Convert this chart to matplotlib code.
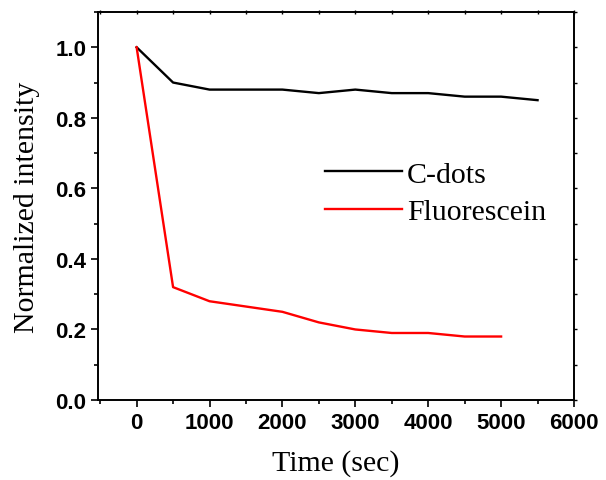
import numpy as np
import matplotlib.pyplot as plt
from matplotlib.ticker import MultipleLocator

# data
time_cdots = [0, 500, 1000, 1500, 2000, 2500, 3000, 3500, 4000, 4500, 5000, 5500]
int_cdots = [1.0, 0.90, 0.88, 0.88, 0.88, 0.87, 0.88, 0.87, 0.87, 0.86, 0.86, 0.85]
time_fluo = [0, 500, 1000, 1500, 2000, 2500, 3000, 3500, 4000, 4500, 5000]
int_fluo = [1.0, 0.32, 0.28, 0.265, 0.25, 0.22, 0.20, 0.19, 0.19, 0.18, 0.18]

fig = plt.figure(figsize=(6.06, 4.81), dpi=100)
ax = fig.add_axes([0.1617, 0.1663, 0.7855, 0.8067])

ax.plot(time_cdots, int_cdots, color='black', lw=1.7, label='C-dots')
ax.plot(time_fluo, int_fluo, color='red', lw=1.7, label='Fluorescein')

ax.set_xlim(-530, 6000)
ax.set_ylim(0, 1.1)
ax.xaxis.set_major_locator(MultipleLocator(1000))
ax.xaxis.set_minor_locator(MultipleLocator(500))
ax.yaxis.set_major_locator(MultipleLocator(0.2))
ax.yaxis.set_minor_locator(MultipleLocator(0.1))
ax.yaxis.set_major_formatter(plt.FormatStrFormatter('%.1f'))

for s in ax.spines.values():
    s.set_linewidth(1.4)
ax.tick_params(which='both', direction='out', width=1.2)
ax.tick_params(which='major', length=5)
ax.tick_params(which='minor', length=3)

# tiny marks on the top and right spines
sec_x = ax.secondary_xaxis('top')
sec_x.xaxis.set_major_locator(MultipleLocator(500))
sec_x.tick_params(direction='inout', length=3, width=1.0, labeltop=False)
sec_x.spines['top'].set_visible(False)
sec_y = ax.secondary_yaxis('right')
sec_y.yaxis.set_major_locator(MultipleLocator(0.1))
sec_y.tick_params(direction='out', length=2, width=1.0, labelright=False)
sec_y.spines['right'].set_visible(False)

for lab in ax.get_xticklabels() + ax.get_yticklabels():
    lab.set_fontfamily('Liberation Sans')
    lab.set_fontweight('bold')
    lab.set_fontsize(16)

ax.set_xlabel('Time (sec)', fontfamily='Liberation Serif', fontsize=21.5, labelpad=12)
ax.set_ylabel('Normalized intensity', fontfamily='Liberation Serif', fontsize=21.5, labelpad=11)

ax.legend(loc='upper left', bbox_to_anchor=(0.445, 0.655), frameon=False,
          prop={'family': 'Liberation Serif', 'size': 21.5},
          handlelength=2.6, handletextpad=0.15, labelspacing=0.35, borderpad=0)

fig.savefig('out.png', dpi=100)
